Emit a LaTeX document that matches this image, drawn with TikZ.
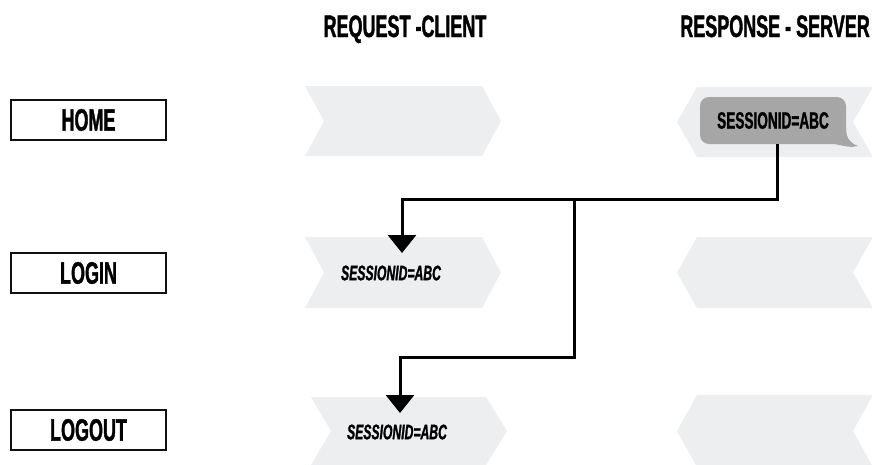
\documentclass[tikz,border=0pt]{standalone}
\usepackage{fontspec}
\setmainfont{Liberation Sans}[FakeStretch=0.58, BoldFeatures={FakeBold=1.2}, BoldItalicFeatures={FakeBold=1.2}]
\usetikzlibrary{arrows.meta}
\definecolor{lane}{HTML}{EDEEF0}
\definecolor{bubblegray}{HTML}{A6A6A6}
\definecolor{ink}{HTML}{111111}
\tikzset{
  lane/.style={fill=lane, draw=none},
  pagebox/.style={draw=ink, line width=2.2pt, fill=white, minimum width=155pt,
    minimum height=40pt, inner sep=0pt, font=\fontsize{31}{32}\selectfont\bfseries},
  heading/.style={anchor=base, inner sep=0pt, font=\fontsize{31}{32}\selectfont\bfseries},
  cookie/.style={inner sep=0pt, font=\fontsize{21}{22}\selectfont\bfseries\itshape},
  bubble/.style={fill=bubblegray, rounded corners=9pt, minimum width=146pt,
    minimum height=47pt, inner sep=0pt, font=\fontsize{23.5}{24}\selectfont\bfseries},
  flow/.style={draw=black, line width=3pt, -{Triangle[width=28pt,length=18pt]}}
}
\begin{document}
\begin{tikzpicture}[x=1pt, y=-1pt]
\useasboundingbox (0,0) rectangle (872,464);
\clip (0,0) rectangle (872,464);

% column headings
\node[heading] (hreq) at (405,37) {REQUEST -CLIENT};
\node[heading, anchor=base east] (hres) at (870,37) {RESPONSE - SERVER};

% request lanes (pointing right)
\fill[lane] (305,86) -- (482,86) -- (501,121) -- (482,156) -- (305,156) -- (324,121) -- cycle;
\fill[lane] (305,237) -- (482,237) -- (501,272.5) -- (482,308) -- (305,308) -- (324,272.5) -- cycle;
\fill[lane] (311,397) -- (486,397) -- (507,431) -- (486,465) -- (311,465) -- (331,431) -- cycle;

% response lanes (pointing left)
\fill[lane] (677,122) -- (697,87) -- (873,87) -- (853,122) -- (873,157) -- (697,157) -- cycle;
\fill[lane] (677,272.5) -- (697,237) -- (873,237) -- (853,272.5) -- (873,308) -- (697,308) -- cycle;
\fill[lane] (677,431) -- (697,395) -- (873,395) -- (853,431) -- (873,467) -- (697,467) -- cycle;

% page labels
\node[pagebox] (home) at (88.5,120) {HOME};
\node[pagebox] (login) at (88.5,273) {LOGIN};
\node[pagebox] (logout) at (88.5,430) {LOGOUT};

% server reply bubble with its tail
\fill[bubblegray] (830,143) .. controls (844,146) and (851,148) .. (858,146)
  .. controls (850,143) and (846,138) .. (846,128) -- cycle;
\node[bubble] (reply) at (773,120.5) {SESSIONID=ABC};

% cookie sent back by the client
\node[cookie] (c1) at (391,273) {SESSIONID=ABC};
\node[cookie] (c2) at (397,432) {SESSIONID=ABC};

% connectors
\coordinate (split) at (574,199);
\coordinate (t1) at (402,253);
\coordinate (t2) at (400,413);
\coordinate (bend) at (574,357);
\draw[flow] ([xshift=4pt]reply.south) |- (t1 |- split) -- (t1);
\draw[flow] (split) -- (bend) -| (t2);
\end{tikzpicture}
\end{document}
